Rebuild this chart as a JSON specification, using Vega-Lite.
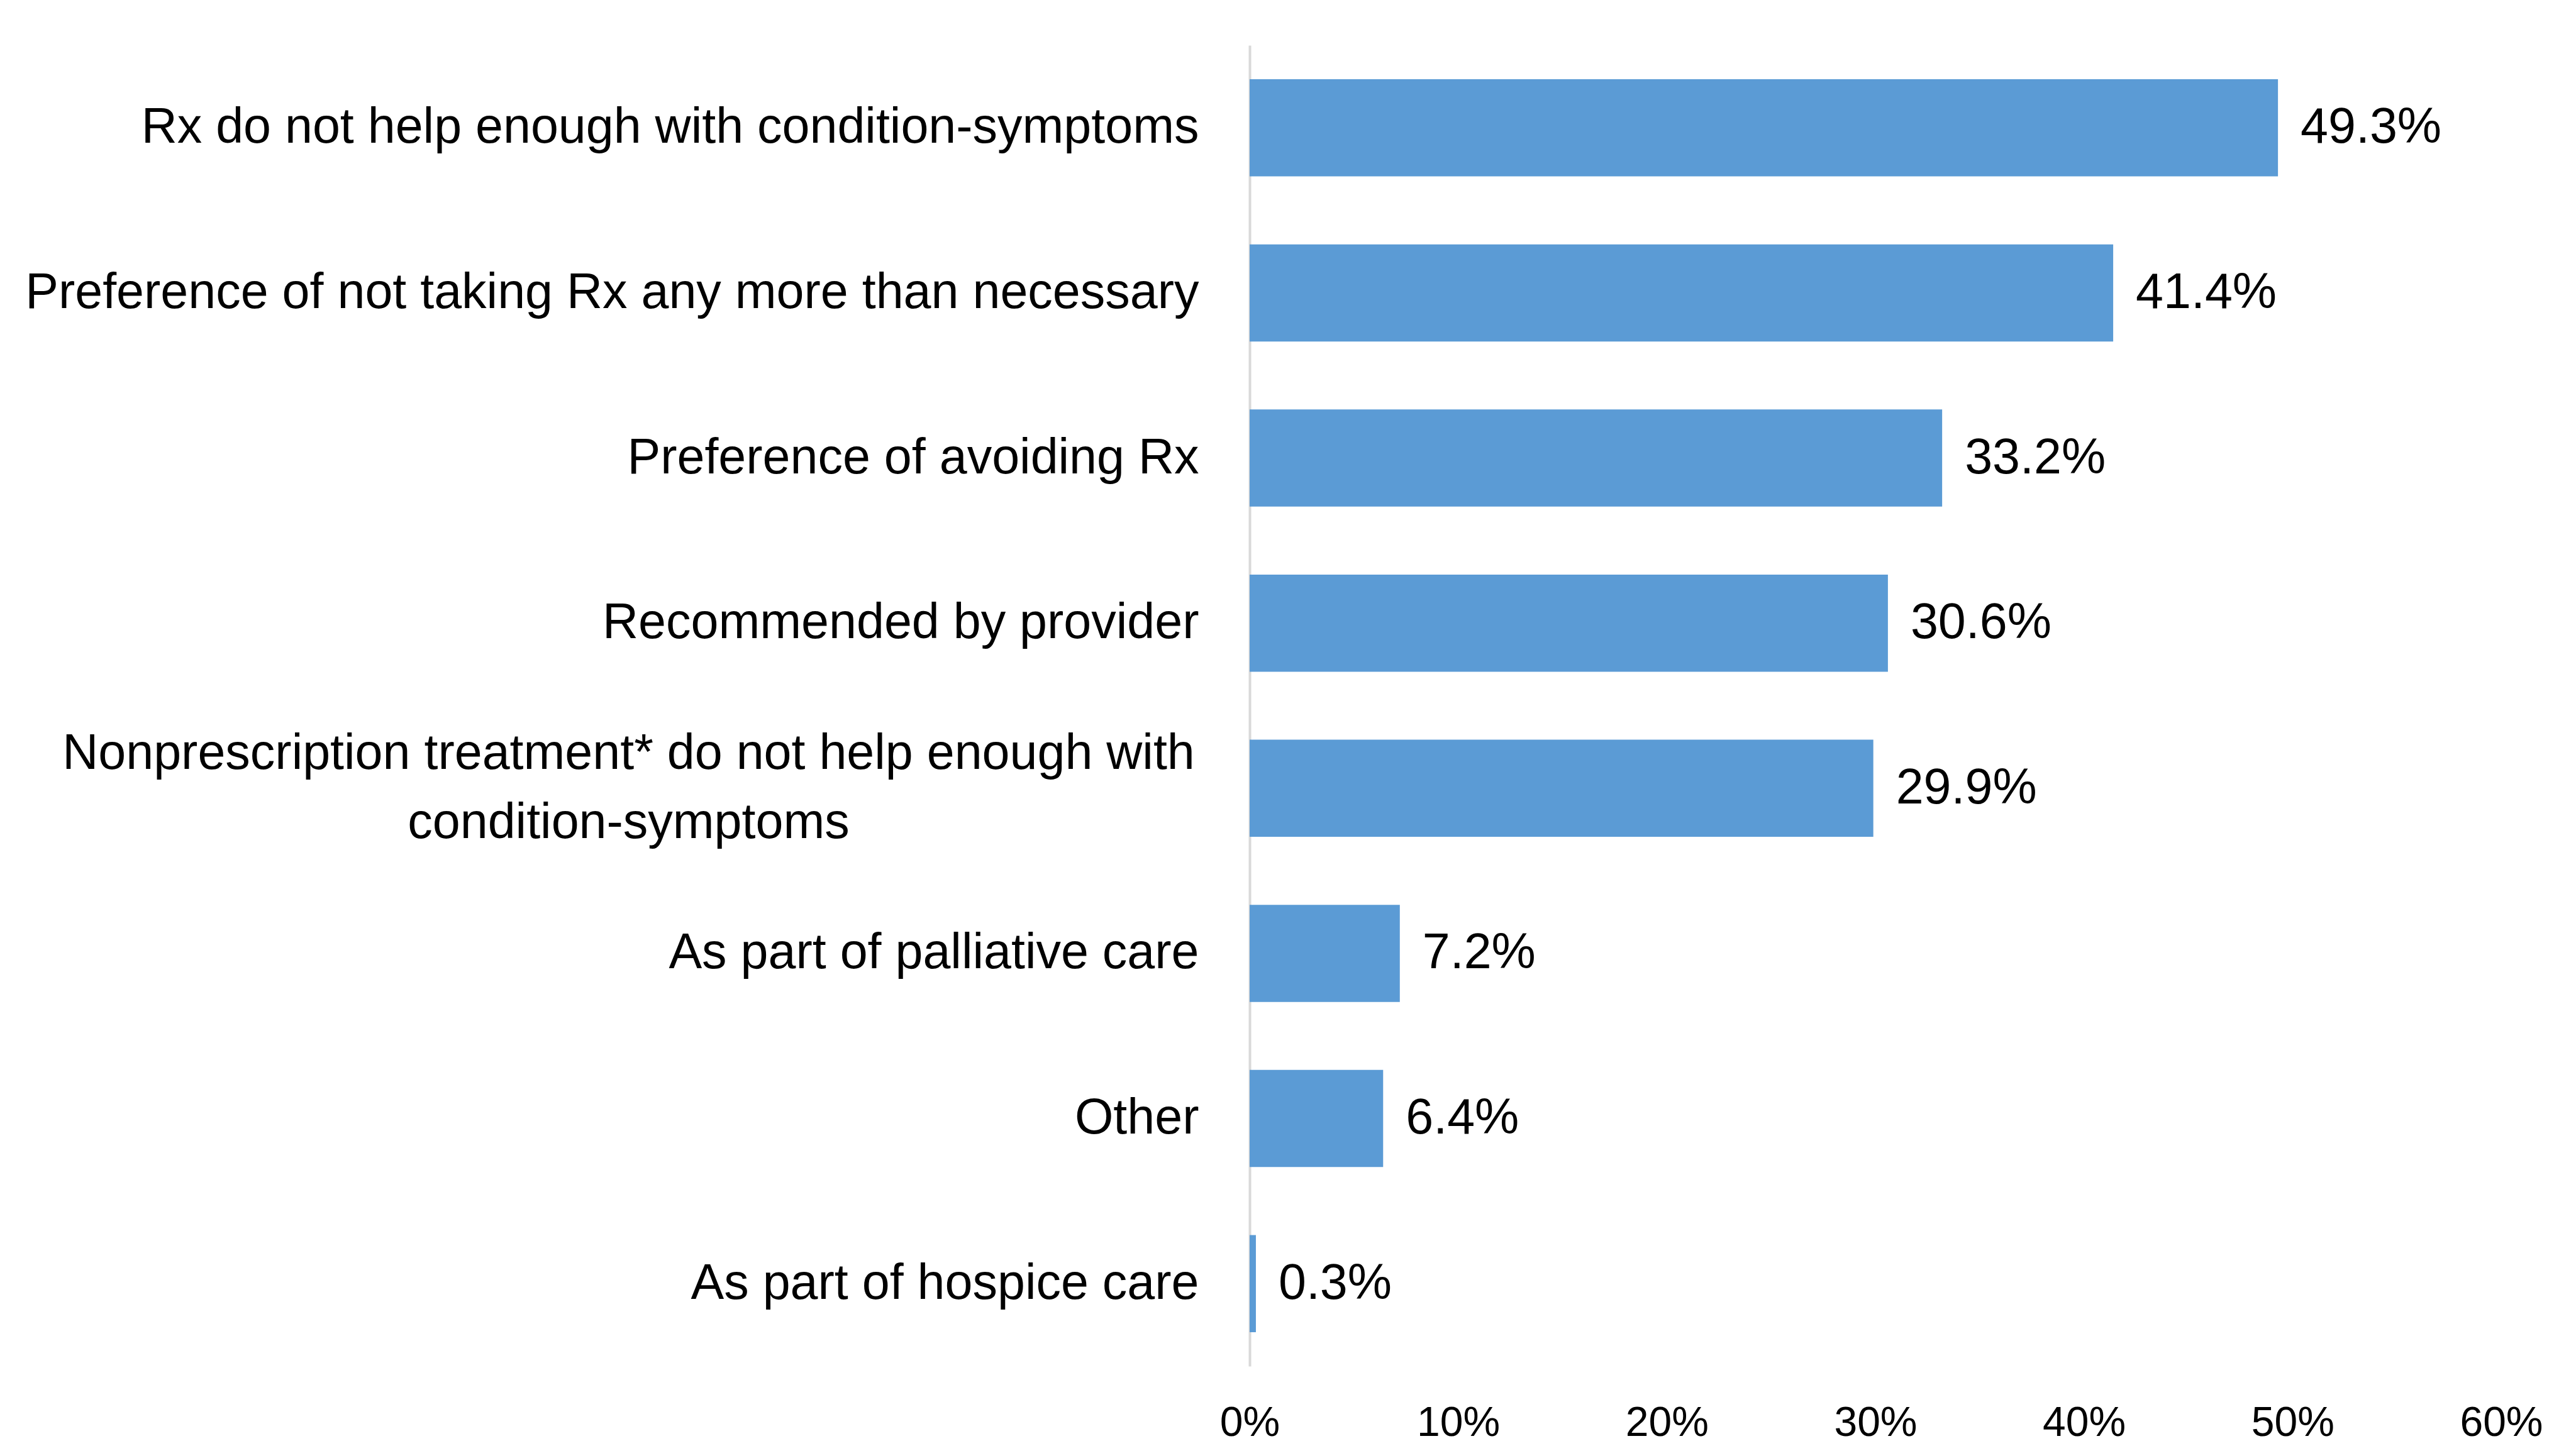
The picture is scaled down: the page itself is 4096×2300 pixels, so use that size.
{
  "$schema": "https://vega.github.io/schema/vega-lite/v6.json",
  "autosize": "none",
  "width": 1990,
  "height": 2101,
  "padding": {"left": 1987, "top": 72, "right": 119, "bottom": 127},
  "background": "#ffffff",
  "config": {
    "view": {"stroke": null},
    "font": "Liberation Sans"
  },
  "data": {
    "values": [
      {"reason": "Rx do not help enough with condition-symptoms", "share": 0.493},
      {"reason": "Preference of not taking Rx any more than necessary", "share": 0.414},
      {"reason": "Preference of avoiding Rx", "share": 0.332},
      {"reason": "Recommended by provider", "share": 0.306},
      {"reason": "Nonprescription treatment* do not help enough with condition-symptoms", "share": 0.299},
      {"reason": "As part of palliative care", "share": 0.072},
      {"reason": "Other", "share": 0.064},
      {"reason": "As part of hospice care", "share": 0.003}
    ]
  },
  "encoding": {
    "y": {
      "field": "reason",
      "type": "nominal",
      "sort": null,
      "title": null,
      "scale": {"paddingInner": 0.412, "paddingOuter": 0.206},
      "axis": {
        "domain": true,
        "domainColor": "#D9D9D9",
        "domainWidth": 4,
        "ticks": false,
        "grid": false,
        "labelFont": "Liberation Sans",
        "labelFontSize": 79,
        "labelColor": "#000000",
        "labelLimit": 0,
        "labelLineHeight": 110,
        "labelBaseline": "middle",
        "labelAlign": {
          "condition": {"test": "indexof(datum.value, 'Nonprescription') === 0", "value": "center"},
          "value": "right"
        },
        "labelPadding": {
          "condition": {"test": "indexof(datum.value, 'Nonprescription') === 0", "value": 988},
          "value": 81
        },
        "labelOffset": {
          "condition": {"test": "indexof(datum.value, 'Nonprescription') === 0", "value": -55},
          "value": 0
        },
        "labelExpr": "indexof(datum.value, 'Nonprescription') === 0 ? ['Nonprescription treatment* do not help enough with', 'condition-symptoms'] : datum.label"
      }
    },
    "x": {
      "field": "share",
      "type": "quantitative",
      "title": null,
      "scale": {"domain": [0, 0.6], "nice": false, "zero": true},
      "axis": {
        "values": [0, 0.1, 0.2, 0.3, 0.4, 0.5, 0.6],
        "format": ".0%",
        "domain": false,
        "ticks": false,
        "grid": false,
        "labelFont": "Liberation Sans",
        "labelFontSize": 66,
        "labelColor": "#000000",
        "labelBaseline": "middle",
        "labelPadding": 90,
        "labelFlush": false,
        "labelOverlap": false
      }
    }
  },
  "layer": [
    {
      "mark": {"type": "bar", "color": "#5B9BD5"}
    },
    {
      "mark": {
        "type": "text",
        "align": "left",
        "baseline": "middle",
        "dx": 36,
        "font": "Liberation Sans",
        "fontSize": 79,
        "color": "#000000"
      },
      "encoding": {
        "text": {"field": "share", "type": "quantitative", "format": ".1%"}
      }
    }
  ]
}
